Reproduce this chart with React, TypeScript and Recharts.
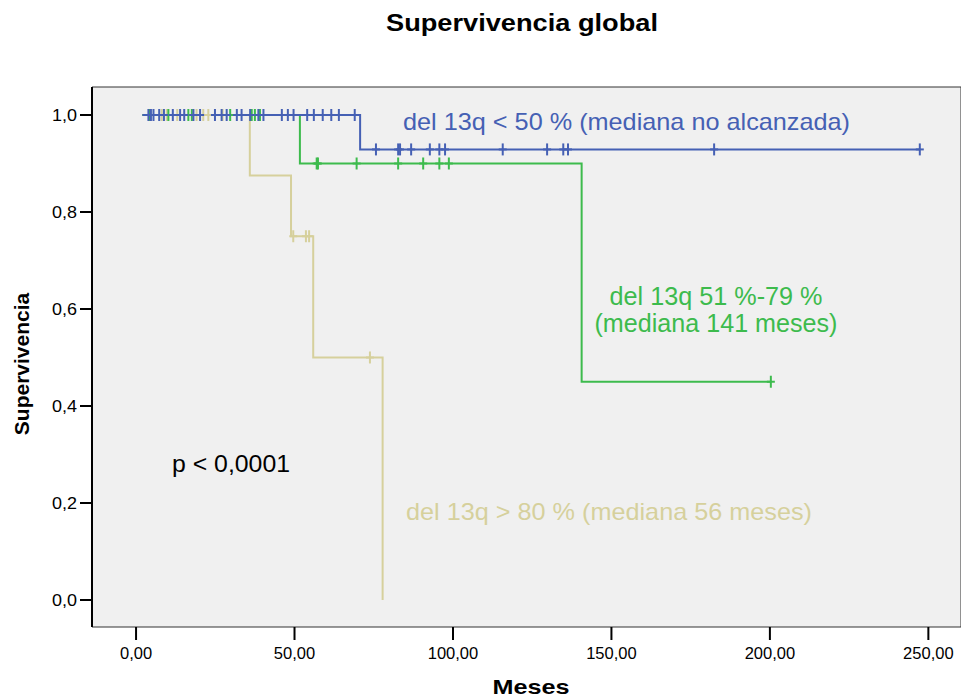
import React from 'react';
import { LineChart, Line, XAxis, YAxis, ReferenceArea } from 'recharts';

// Kaplan-Meier curves, times in months
const START_TIME = 2;

const lowEventTimes = [70.7];
const lowEventSurv = [0.929];
const lowCensored = [
  3.9, 4.7, 5.5, 7.3, 8.8, 11.6, 13.9, 15.2, 18.1, 20.2, 24.9, 27.0, 28.6, 31.8, 33.3, 36.0, 38.6, 40.2,
  46.0, 47.9, 49.7, 54.0, 56.1, 58.9, 61.6, 64.0, 69.0,
  75.7, 82.7, 83.3, 86.8, 92.7, 95.7, 97.5, 115.7, 129.7, 134.8, 136.3, 182.4, 247.3,
];

const midEventTimes = [51.7, 140.6];
const midEventSurv = [0.9, 0.45];
const midCensored = [
  4.4, 10.2, 16.5, 17.6, 29.7, 36.5, 37.5, 39.1, 57.0, 57.4, 69.6, 82.7, 90.6, 95.7, 98.7, 200.3,
];

const highEventTimes = [35.9, 48.9, 55.9, 77.8];
const highEventSurv = [0.875, 0.75, 0.5, 0];
const highCensored = [8.1, 9.7, 13.0, 19.1, 21.2, 22.8, 27.3, 49.6, 53.6, 54.6, 73.8];

const xTicks = [0, 50, 100, 150, 200, 250];
const yTicks = [0, 0.2, 0.4, 0.6, 0.8, 1.0];

const BLUE = '#4560b4';
const GREEN = '#3dbb4d';
const BEIGE = '#d6d09c';

type Pt = { t: number; s: number; c: boolean };

function buildCurve(times: number[], surv: number[], censored: number[]): Pt[] {
  const pts: Pt[] = [{ t: START_TIME, s: 1, c: false }];
  times.forEach((t, i) => pts.push({ t, s: surv[i], c: false }));
  censored.forEach((t) => {
    let s = 1;
    times.forEach((et, i) => {
      if (et <= t) s = surv[i];
    });
    pts.push({ t, s, c: true });
  });
  pts.sort((a, b) => a.t - b.t || (a.c ? 1 : -1));
  return pts;
}

const lowData = buildCurve(lowEventTimes, lowEventSurv, lowCensored);
const midData = buildCurve(midEventTimes, midEventSurv, midCensored);
const highData = buildCurve(highEventTimes, highEventSurv, highCensored);

const censorMark = (color: string) => (props: any) => {
  const { cx, cy, payload, index } = props;
  if (!payload || !payload.c) return <g key={`e-${index}`} />;
  return (
    <g key={`c-${index}`} stroke={color} strokeWidth={2}>
      <line x1={cx} y1={cy - 6} x2={cx} y2={cy + 6} />
      <line x1={cx - 4} y1={cy} x2={cx + 4} y2={cy} />
    </g>
  );
};

const FONT = "'Liberation Sans', Arial, sans-serif";

const XTick = (props: any) => {
  const { x, y, payload } = props;
  const label = payload.value.toFixed(2).replace('.', ',');
  const digits = label.length - 1;
  return (
    <text x={x} y={y + 17} textAnchor="middle" fontFamily={FONT} fontSize={16.5} fill="#000"
      textLength={digits * 9.2 + 4.5} lengthAdjust="spacingAndGlyphs">
      {label}
    </text>
  );
};

const YTick = (props: any) => {
  const { x, y, payload } = props;
  const label = payload.value.toFixed(1).replace('.', ',');
  return (
    <text x={x - 1} y={y + 6} textAnchor="end" fontFamily={FONT} fontSize={16.5} fill="#000"
      textLength={25} lengthAdjust="spacingAndGlyphs">
      {label}
    </text>
  );
};

const X_DOMAIN: [number, number] = [-13.9, 260.3];
const Y_DOMAIN: [number, number] = [-0.0557, 1.0577];

export default function App() {
  return (
    <div style={{ position: 'absolute', left: 0, top: 0, width: 961, height: 700, background: '#fff' }}>
      <LineChart width={961} height={700} margin={{ top: 87, right: 0, bottom: 0, left: 0 }}>
        <ReferenceArea x1={X_DOMAIN[0]} x2={X_DOMAIN[1]} y1={Y_DOMAIN[0]} y2={Y_DOMAIN[1]}
          fill="#f0f0f0" fillOpacity={1} stroke="#333" strokeWidth={1} ifOverflow="visible" />
        <XAxis dataKey="t" type="number" domain={X_DOMAIN} ticks={xTicks} allowDataOverflow
          height={73} axisLine={false} tickSize={13} tickLine={{ stroke: '#000', strokeWidth: 2 }} tick={<XTick />} />
        <YAxis type="number" domain={Y_DOMAIN} ticks={yTicks} allowDataOverflow width={92}
          axisLine={{ stroke: '#000', strokeWidth: 2 }} tickSize={12} tickLine={{ stroke: '#000', strokeWidth: 2 }} tick={<YTick />} />
        <Line data={highData} dataKey="s" type="stepAfter" stroke={BEIGE} strokeWidth={2}
          dot={censorMark(BEIGE)} activeDot={false} isAnimationActive={false} />
        <Line data={midData} dataKey="s" type="stepAfter" stroke={GREEN} strokeWidth={2}
          dot={censorMark(GREEN)} activeDot={false} isAnimationActive={false} />
        <Line data={lowData} dataKey="s" type="stepAfter" stroke={BLUE} strokeWidth={2}
          dot={censorMark(BLUE)} activeDot={false} isAnimationActive={false} />
      </LineChart>
      <svg width={961} height={700} style={{ position: 'absolute', left: 0, top: 0, pointerEvents: 'none' }}>
        <g fontFamily={FONT}>
          <text x={522} y={31} textAnchor="middle" fontSize={23} fontWeight="bold" textLength={272} lengthAdjust="spacingAndGlyphs">
            Supervivencia global
          </text>
          <text transform="translate(29,364) rotate(-90)" textAnchor="middle" fontSize={21} fontWeight="bold">
            Supervivencia
          </text>
          <text x={531} y={694} textAnchor="middle" fontSize={21} fontWeight="bold" textLength={77} lengthAdjust="spacingAndGlyphs">
            Meses
          </text>
          <text x={403} y={130} fontSize={24} fill={BLUE} textLength={447} lengthAdjust="spacingAndGlyphs">
            del 13q &lt; 50 % (mediana no alcanzada)
          </text>
          <text x={716} y={305} textAnchor="middle" fontSize={25} fill={GREEN} textLength={213} lengthAdjust="spacingAndGlyphs">
            del 13q 51 %-79 %
          </text>
          <text x={716} y={332} textAnchor="middle" fontSize={25} fill={GREEN} textLength={243} lengthAdjust="spacingAndGlyphs">
            (mediana 141 meses)
          </text>
          <text x={406} y={520} fontSize={24} fill={BEIGE} textLength={406} lengthAdjust="spacingAndGlyphs">
            del 13q &gt; 80 % (mediana 56 meses)
          </text>
          <text x={172} y={472} fontSize={24} fill="#000" textLength={118} lengthAdjust="spacingAndGlyphs">
            p &lt; 0,0001
          </text>
        </g>
      </svg>
    </div>
  );
}
